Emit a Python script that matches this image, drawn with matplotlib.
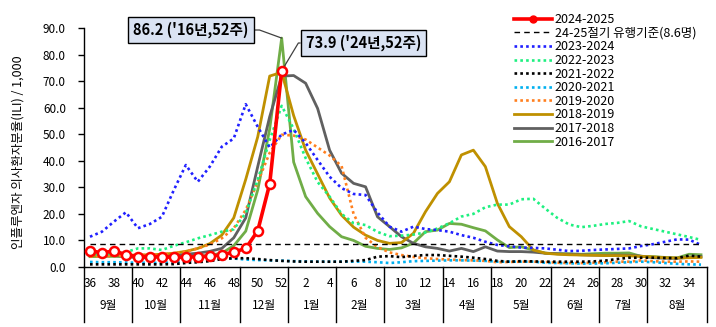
import numpy as np
import matplotlib
matplotlib.use("Agg")
import matplotlib.pyplot as plt
import matplotlib.transforms as mtransforms
from matplotlib.lines import Line2D

plt.rcParams["font.family"] = ["Noto Sans CJK KR", "DejaVu Sans"]
plt.rcParams["axes.unicode_minus"] = False

# season weeks: 36..52 then 1..35
weeks = list(range(36, 53)) + list(range(1, 36))

months = ["9월", "10월", "11월", "12월", "1월", "2월", "3월", "4월", "5월", "6월", "7월", "8월"]
month_len = [4, 4, 5, 4, 4, 4, 5, 4, 5, 4, 4, 5]

threshold = 8.6

s2024 = [6.2, 5.3, 6.1, 4.6, 3.9, 3.9, 3.9, 3.6, 3.7, 3.9, 4.0, 4.6, 5.6, 7.0, 13.6, 31.3, 73.9]

s2023 = [11.4, 13.3, 17.1, 20.6, 14.6, 16.2, 18.9, 29.0, 38.4, 32.1, 37.8, 45.3, 48.4, 61.3, 52.8, 45.0, 49.9,
         51.6, 46.7, 40.3, 34.0, 29.7, 27.5, 27.1, 20.5, 15.2, 13.3, 15.2, 14.3, 13.9, 13.3, 12.0, 11.0, 9.5,
         8.3, 7.8, 7.3, 7.2, 7.0, 6.5, 6.0, 6.1, 6.4, 6.6, 6.8, 7.0, 7.9, 8.6, 9.5, 10.4, 10.3, 8.3]

s2022 = [4.6, 4.8, 5.0, 5.6, 7.0, 7.0, 6.4, 8.0, 9.3, 10.8, 12.0, 13.3, 14.2, 20.3, 32.8, 47.8, 60.7,
         52.0, 41.0, 32.0, 26.5, 20.0, 16.5, 15.8, 13.2, 11.6, 11.8, 12.2, 13.0, 14.5, 16.5, 19.0, 20.0, 22.5,
         23.5, 23.5, 25.5, 25.7, 22.0, 18.5, 16.0, 15.0, 15.5, 16.2, 16.6, 17.3, 15.3, 14.3, 13.3, 12.3, 11.3, 10.2]

s2021 = [1.0, 1.0, 1.0, 1.0, 1.0, 1.0, 1.0, 1.1, 1.5, 1.8, 2.2, 3.0, 3.3, 3.3, 3.0, 2.6, 2.3,
         2.1, 2.0, 2.0, 2.0, 2.0, 2.3, 2.6, 3.9, 4.1, 3.7, 4.2, 4.5, 4.5, 4.2, 3.9, 3.5, 3.0,
         2.3, 2.0, 2.2, 2.1, 2.0, 2.0, 2.0, 2.0, 2.1, 2.4, 3.0, 3.5, 3.5, 3.5, 3.4, 3.3, 4.3, 3.9]

s2020 = [1.9, 1.8, 1.8, 1.7, 1.6, 1.6, 1.5, 1.8, 2.2, 2.6, 3.0, 3.3, 3.2, 2.8, 2.6, 2.5, 2.4,
         2.2, 2.1, 2.0, 2.0, 2.0, 2.0, 2.0, 1.8, 1.5, 1.8, 2.2, 2.3, 2.4, 2.5, 2.5, 2.4, 2.3,
         2.0, 2.0, 2.0, 2.0, 1.6, 1.5, 1.4, 1.3, 1.3, 1.4, 1.6, 1.8, 2.0, 1.8, 1.5, 1.2, 1.0, 0.9]

s2019 = [3.9, 4.0, 4.2, 4.3, 4.4, 4.6, 4.8, 5.2, 5.8, 7.0, 8.5, 10.8, 14.6, 21.5, 32.0, 43.0, 49.8,
         49.5, 48.0, 45.0, 42.0, 38.0, 20.0, 11.0, 7.5, 5.5, 4.5, 3.8, 3.3, 3.0, 2.8, 2.6, 2.5, 2.3,
         1.8, 1.9, 2.0, 2.0, 1.9, 1.6, 1.5, 1.5, 1.6, 1.8, 2.0, 2.0, 2.5, 2.2, 2.0, 2.0, 2.1, 2.0]

s2018 = [4.3, 4.4, 4.4, 4.5, 4.5, 4.6, 4.8, 5.2, 5.9, 7.0, 8.8, 12.0, 18.5, 33.0, 49.0, 71.9, 73.3,
         57.0, 44.0, 35.0, 26.0, 19.5, 15.0, 12.0, 10.0, 8.9, 9.2, 12.7, 20.8, 27.7, 32.1, 42.2, 44.0, 37.8,
         24.0, 15.2, 11.4, 6.4, 5.2, 4.8, 4.6, 4.5, 4.4, 4.3, 4.3, 4.2, 4.0, 3.8, 3.5, 3.4, 3.5, 3.6]

s2017 = [4.5, 4.4, 4.3, 4.0, 3.4, 3.5, 3.9, 4.4, 4.8, 5.2, 5.9, 7.0, 11.0, 18.5, 37.8, 56.6, 71.9,
         72.1, 69.2, 59.7, 44.0, 35.3, 31.5, 30.2, 18.9, 15.2, 11.4, 8.9, 7.6, 7.0, 6.0, 7.0, 5.8, 7.6,
         6.0, 5.8, 5.8, 5.6, 5.2, 5.0, 4.8, 4.6, 4.5, 4.4, 4.5, 4.4, 4.1, 3.5, 3.3, 3.3, 3.6, 3.9]

s2016 = [3.9, 4.0, 4.0, 4.0, 3.9, 3.8, 3.8, 3.8, 3.9, 4.1, 4.4, 5.2, 8.0, 13.5, 29.0, 52.0, 86.2,
         39.5, 26.5, 20.2, 15.2, 11.4, 10.0, 7.8, 7.0, 6.6, 7.2, 9.0, 13.3, 13.9, 16.4, 16.1, 14.8, 13.6,
         10.2, 7.3, 7.6, 6.4, 5.2, 5.0, 5.0, 4.8, 5.0, 5.2, 5.2, 5.3, 4.0, 3.9, 3.6, 3.4, 4.8, 4.6]

x = np.arange(len(weeks))

fig = plt.figure(figsize=(7.16, 3.27), dpi=100)
W, H = 716, 327
ax = fig.add_axes([84 / W, 1 - 267 / H, (707 - 84) / W, (267 - 28) / H])

dot = (0, (1, 1.2))
older = [
    ("2016-2017", s2016, "#70AD47", "-", 2.0),
    ("2017-2018", s2017, "#606060", "-", 2.0),
    ("2018-2019", s2018, "#BF9000", "-", 2.0),
    ("2019-2020", s2019, "#FF7F1E", dot, 1.9),
    ("2020-2021", s2020, "#00B0F0", dot, 1.9),
    ("2021-2022", s2021, "#000000", dot, 1.9),
    ("2022-2023", s2022, "#1EF080", dot, 1.9),
    ("2023-2024", s2023, "#2020FF", dot, 1.9),
]
handles = {}
for name, vals, col, ls, lw in older:
    ln, = ax.plot(x, vals, color=col, linestyle=ls, lw=lw, label=name)
    handles[name] = ln

thr, = ax.plot([x[0], x[-1]], [threshold, threshold], color="black", lw=1.0,
               linestyle=(0, (4, 3)), label="24-25절기 유행기준(8.6명)")

cur, = ax.plot(x[:len(s2024)], s2024, color="#FF0000", lw=2.6, marker="o", ms=6.5,
               mfc="white", mec="#FF0000", mew=1.8, zorder=10, label="2024-2025")

ax.set_xlim(-0.5, len(weeks) - 0.5)
ax.set_ylim(0, 90)
ax.set_yticks(np.arange(0, 91, 10))
ax.set_yticklabels([f"{v:.1f}" for v in np.arange(0, 91, 10)])
ax.tick_params(axis="y", length=4, width=1, direction="out", labelsize=8.5, pad=9)
ax.set_xticks(x[::2])
ax.set_xticklabels([str(w) for w in weeks[::2]])
ax.tick_params(axis="x", length=0, labelsize=8.5, pad=7)
for sp in ["top", "right"]:
    ax.spines[sp].set_visible(False)
for sp in ["left", "bottom"]:
    ax.spines[sp].set_linewidth(1.0)

# month bands under the week labels
trans = mtransforms.blended_transform_factory(ax.transData, ax.transAxes)
bounds = np.concatenate([[0], np.cumsum(month_len)]) - 0.5
for b in bounds:
    ax.plot([b, b], [0, -0.23], color="black", lw=1.0, transform=trans, clip_on=False)
for i, m in enumerate(months):
    ax.text((bounds[i] + bounds[i + 1]) / 2, -0.16, m, transform=trans,
            ha="center", va="center", fontsize=8.5)

fig.text(18 / W, 1 - 152 / H, "인플루엔자 의사환자분율(ILI) / 1,000", rotation=90,
         ha="center", va="center", fontsize=9)

box = dict(boxstyle="square,pad=0.35", fc="#DAE3F3", ec="black", lw=1.0)
ax.annotate("86.2 ('16년,52주)", xy=(16, s2016[16]), xytext=(0.1717, 0.9916),
            textcoords="axes fraction", ha="center", va="center", fontsize=10.5,
            fontweight="bold", bbox=box, annotation_clip=False,
            arrowprops=dict(arrowstyle="-", color="#404040", lw=0.9, relpos=(1, 0.5),
                            shrinkA=0, shrinkB=0,
                            connectionstyle="angle,angleA=0,angleB=160,rad=0"))
ax.annotate("73.9 ('24년,52주)", xy=(16, s2024[16]), xytext=(0.4486, 0.9372),
            textcoords="axes fraction", ha="center", va="center", fontsize=10.5,
            fontweight="bold", bbox=box, annotation_clip=False,
            arrowprops=dict(arrowstyle="-", color="#404040", lw=0.9, relpos=(0, 0.5),
                            shrinkA=0, shrinkB=0,
                            connectionstyle="angle,angleA=0,angleB=59,rad=0"))

# legend: current season shown with a filled marker
leg_cur = Line2D([], [], color="#FF0000", lw=2.6, marker="o", ms=5,
                 mfc="#FF0000", mec="#FF0000")
order = [leg_cur, thr] + [handles[n] for n in
                          ["2023-2024", "2022-2023", "2021-2022", "2020-2021",
                           "2019-2020", "2018-2019", "2017-2018", "2016-2017"]]
labels = ["2024-2025"] + [h.get_label() for h in order[1:]]
ax.legend(order, labels, loc="upper left",
          bbox_to_anchor=(514 / W, 1 - 13 / H), bbox_transform=fig.transFigure,
          frameon=False, fontsize=9, handlelength=3.0, handletextpad=0.25,
          labelspacing=0.05, borderpad=0, borderaxespad=0)

fig.savefig("out.png", dpi=100)
